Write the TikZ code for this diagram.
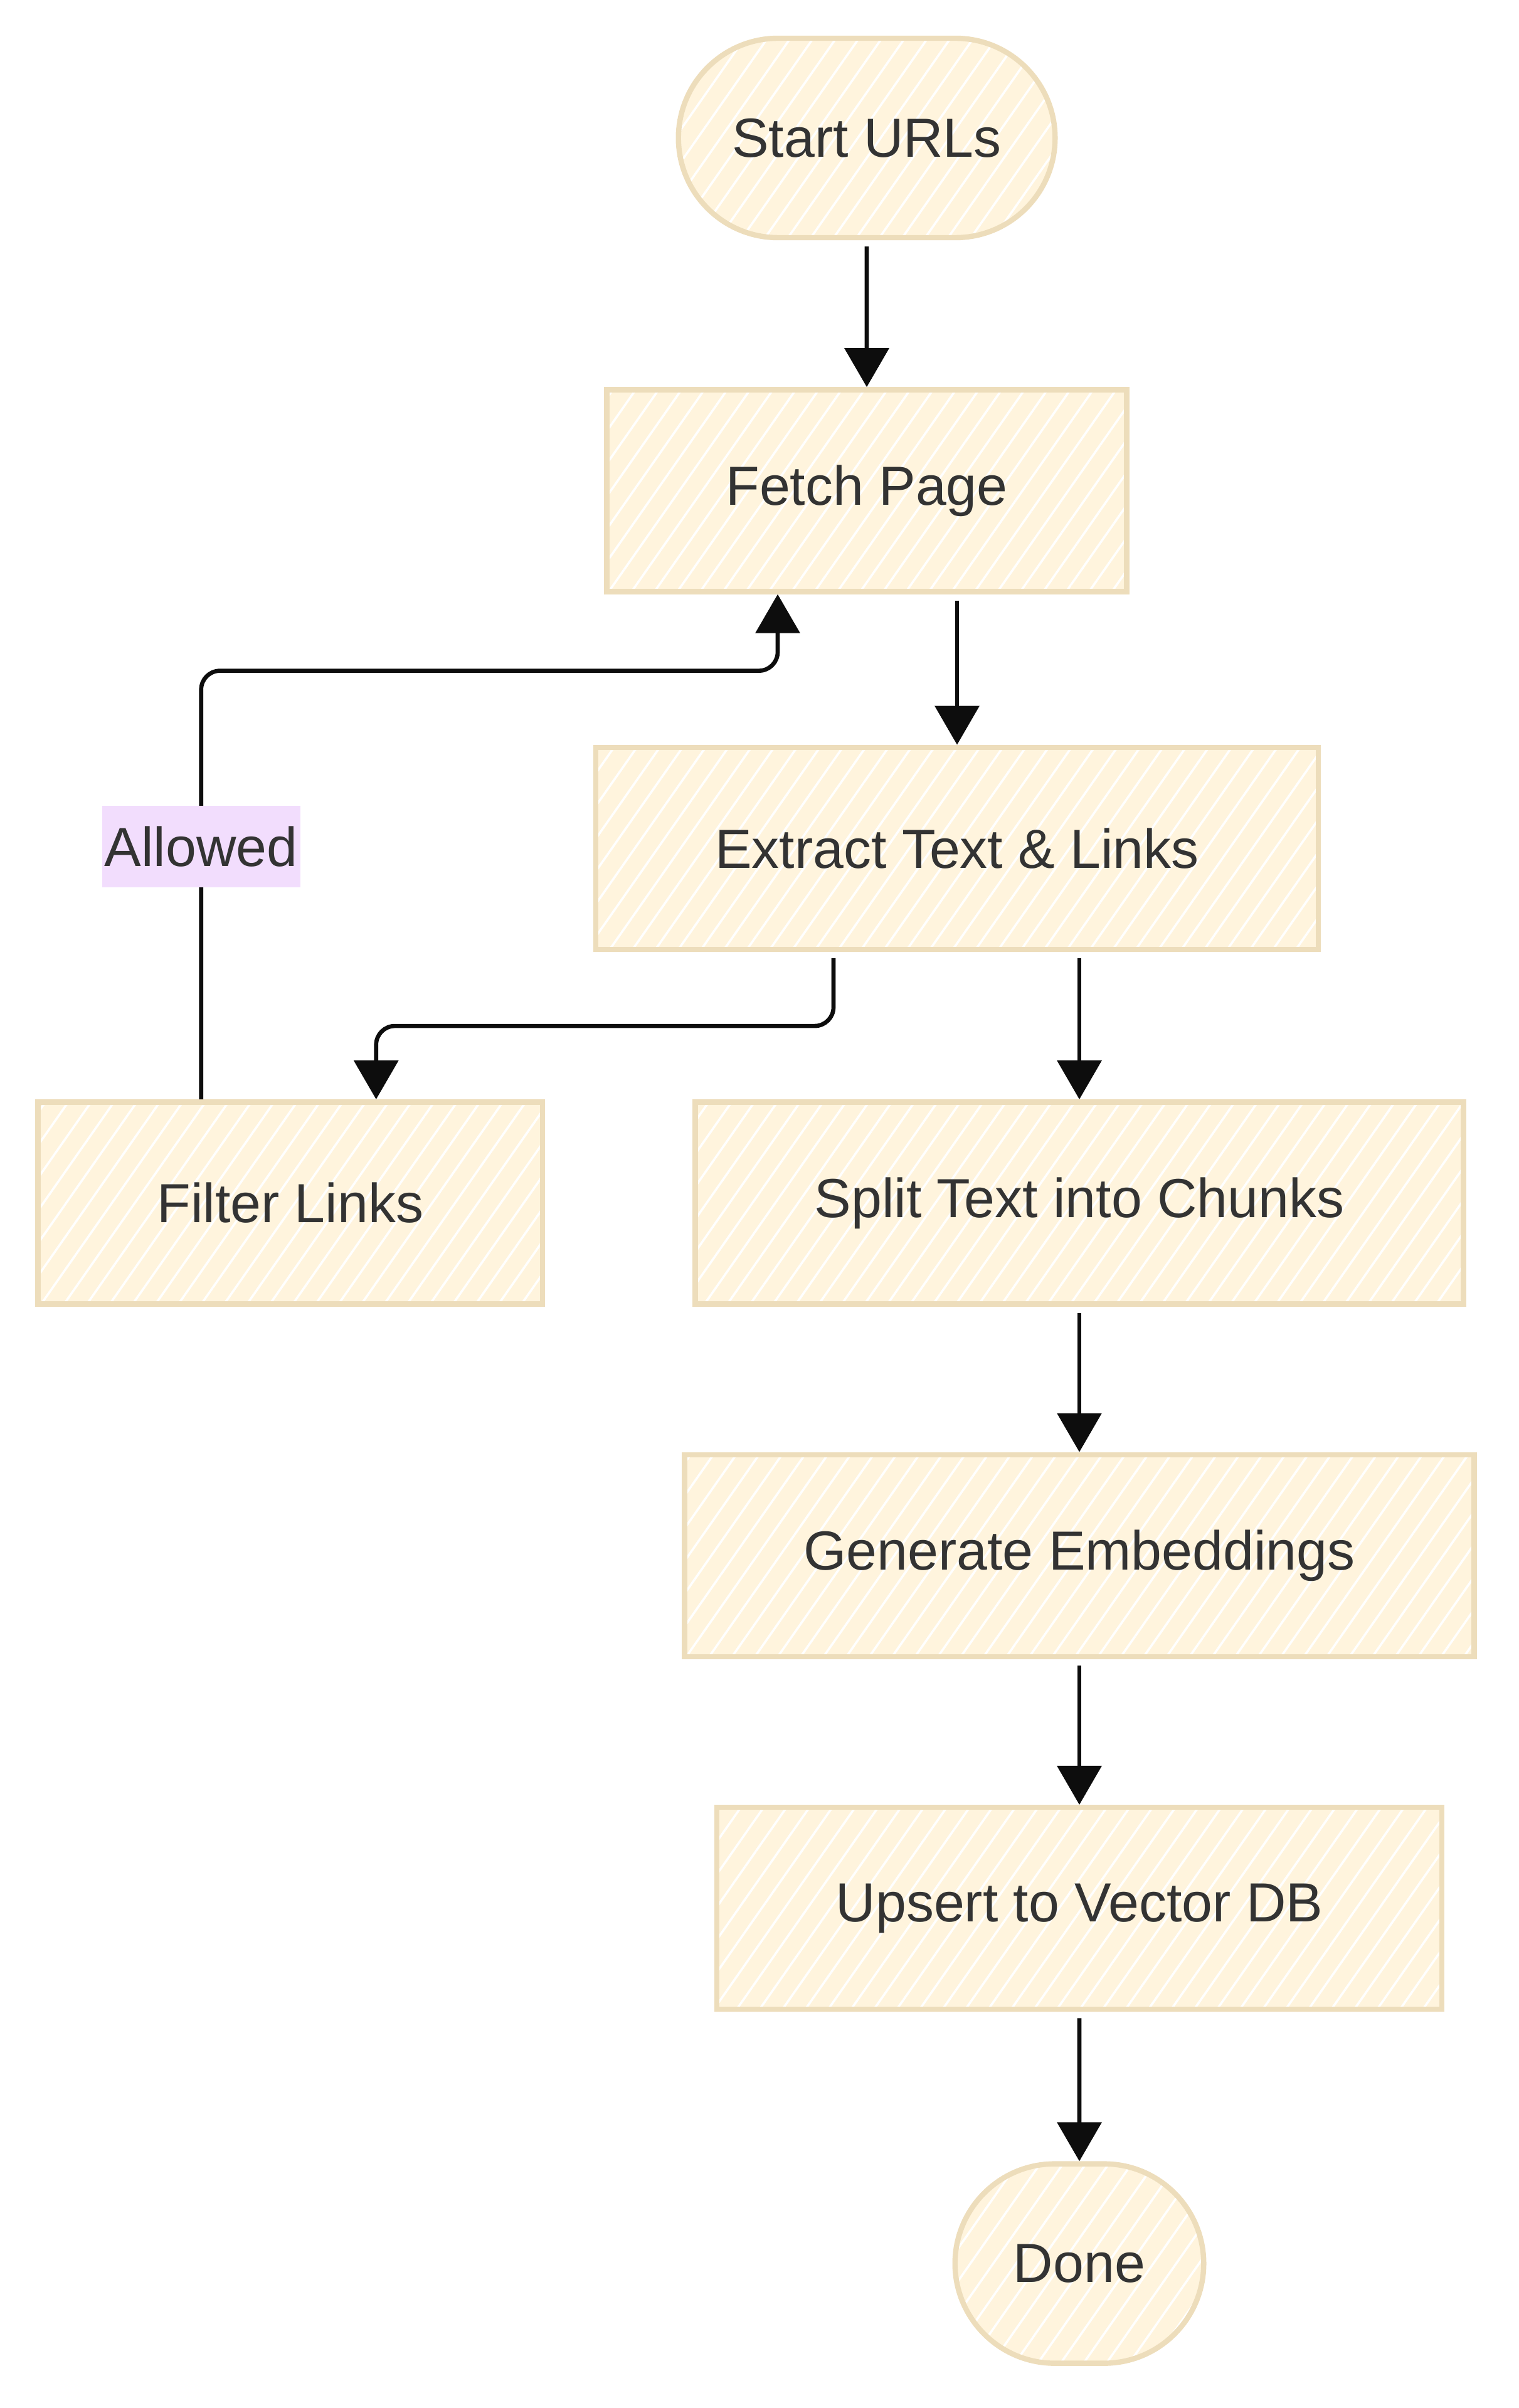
\documentclass[tikz,border=0pt]{standalone}
\usepackage{fontspec}
\setmainfont{Liberation Sans}
\usetikzlibrary{shapes.misc, arrows.meta, positioning, calc, patterns.meta}

\definecolor{boxfill}{HTML}{FFF4DD}
\definecolor{boxline}{HTML}{EDDDBB}
\definecolor{textgray}{HTML}{333333}
\definecolor{lblfill}{HTML}{F2DDFD}

\begin{document}
\begin{tikzpicture}[
    font=\fontsize{25}{30}\selectfont,
    text=textgray,
    node distance=2.4cm,
    % Define styles
    hatch/.style={preaction={fill=boxfill}, pattern={Lines[angle=55, distance=8.5pt, line width=1pt]}, pattern color=white},
    terminal/.style={rounded rectangle, hatch, draw=boxline, line width=2.4pt, minimum width=6.24cm, minimum height=3.18cm, align=center},
    stepbox/.style={rectangle, hatch, draw=boxline, line width=2.4pt, inner xsep=1.9cm, minimum height=3.22cm, align=center},
    flow/.style={-{Triangle[length=0.62cm, width=0.7cm]}, line width=1.9pt, draw=black!95},
    lbl/.style={fill=lblfill, sharp corners, inner xsep=0.04cm, minimum height=1.3cm, text=textgray}
]
\useasboundingbox (0,0) rectangle (24.21,-38.40);

% 1. Start and fetch
\node[terminal] (start) at (13.82,-2.20) {Start URLs};
\node[stepbox, below=2.34cm of start] (fetch) {Fetch Page};

% 2. Extraction
\node[stepbox, below=2.4cm of fetch, xshift=1.44cm] (extract) {Extract Text \& Links};
\node[stepbox, below=2.35cm of extract, xshift=1.95cm] (split) {Split Text into Chunks};
\node[stepbox, left=2.35cm of split] (filter) {Filter Links};

% 3. Indexing
\node[stepbox, below=2.32cm of split] (embed) {Generate Embeddings};
\node[stepbox, below=2.32cm of embed] (upsert) {Upsert to Vector DB};
\node[terminal, minimum width=4.2cm, below=2.38cm of upsert] (done) {Done};

% Connections
\draw[flow, shorten <=0.1cm] (start) -- (fetch);
\draw[flow, shorten <=0.1cm] (fetch.south -| extract.north) -- (extract.north);
\draw[flow, shorten <=0.1cm] (extract.south -| split.north) -- (split);
\draw[flow, shorten <=0.1cm] (split) -- (embed);
\draw[flow, shorten <=0.1cm] (embed) -- (upsert);
\draw[flow, shorten <=0.1cm] (upsert) -- (done);

% Links go to the filter
\draw[flow, rounded corners=0.3cm, shorten <=0.1cm] ([xshift=-1.97cm]extract.south) -- ++(0,-1.18) -| ([xshift=1.37cm]filter.north);

% Allowed links loop back
\coordinate (loop) at ($([xshift=-1.42cm]fetch.south)+(0,-1.22)$);
\draw[flow, rounded corners=0.3cm] ([xshift=-1.42cm]filter.north) |- node[lbl, pos=0.295] {Allowed} (loop) -- ([xshift=-1.42cm]fetch.south);

\end{tikzpicture}
\end{document}
